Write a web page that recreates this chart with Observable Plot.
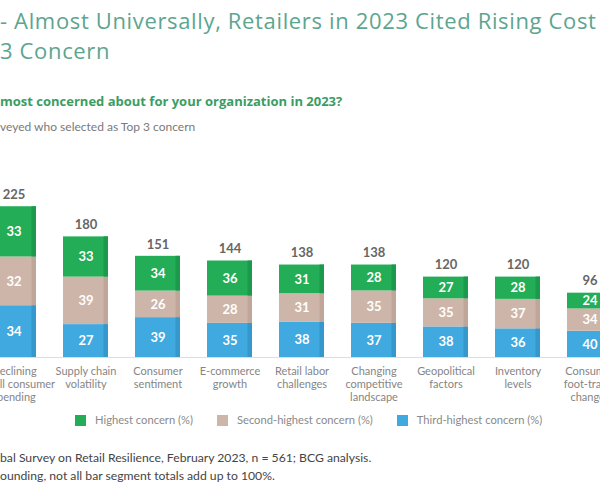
<!DOCTYPE html>
<html>
<head>
<meta charset="utf-8">
<script src="https://cdn.jsdelivr.net/npm/d3@7"></script>
<script src="https://cdn.jsdelivr.net/npm/@observablehq/plot@0.6"></script>
<style>
  html, body { margin: 0; padding: 0; background: #fff; }
  body { width: 600px; height: 500px; overflow: hidden; position: relative; font-family: Lato, "Open Sans", sans-serif; }
  .abs { position: absolute; white-space: nowrap; }
  #title { left: 0; top: 4.5px; font-family: "Open Sans", sans-serif; font-size: 22px; letter-spacing: 0.65px; line-height: 30px; color: #5ca58f; font-weight: 400; }
  #sub { left: 0; top: 93px; font-family: "Open Sans", sans-serif; font-size: 13px; line-height: 16px; color: #3a9d63; font-weight: 700; }
  #sub2 { left: 0; top: 119px; font-size: 12px; line-height: 15px; color: #7a7a7a; }
  #chart { left: -40px; top: 150px; width: 681px; height: 260px; }
  #chart svg { max-width: none !important; }
  #legend { left: 75px; top: 413px; display: flex; gap: 24px; font-size: 11.2px; color: #8a8a8a; line-height: 14px; }
  .item { display: flex; align-items: center; gap: 9px; }
  .sw { width: 11px; height: 11px; display: inline-block; }
  #note1 { left: 0; top: 450px; font-size: 12.2px; line-height: 16px; color: #444; }
  #note2 { left: 0; top: 468px; font-size: 12.2px; line-height: 16px; color: #444; }
</style>
</head>
<body>
<div id="title" class="abs">- Almost Universally, Retailers in 2023 Cited Rising Cost<br>3 Concern</div>
<div id="sub" class="abs">most concerned about for your organization in 2023?</div>
<div id="sub2" class="abs">veyed who selected as Top 3 concern</div>
<div id="chart" class="abs"></div>
<div id="legend" class="abs"></div>
<div id="note1" class="abs">bal Survey on Retail Resilience, February 2023, n = 561; BCG analysis.</div>
<div id="note2" class="abs">ounding, not all bar segment totals add up to 100%.</div>
<script>
const categories = [
  "Declining\noverall consumer\nspending",
  "Supply chain\nvolatility",
  "Consumer\nsentiment",
  "E-commerce\ngrowth",
  "Retail labor\nchallenges",
  "Changing\ncompetitive\nlandscape",
  "Geopolitical\nfactors",
  "Inventory\nlevels",
  "Consumer\nfoot-traffic\nchanges"
];
const totals  = [225, 180, 151, 144, 138, 138, 120, 120, 96];
const highest = [33, 33, 34, 36, 31, 28, 27, 28, 24];
const second  = [32, 39, 26, 28, 31, 35, 35, 37, 34];
const third   = [34, 27, 39, 35, 38, 37, 38, 36, 40];
const series  = ["Third-highest concern (%)", "Second-highest concern (%)", "Highest concern (%)"];
const colors  = ["#3fa9e0", "#cdb6a9", "#22ad56"];
const shades  = ["#3598cc", "#bfa698", "#1c9a4b"];
const legendOrder = ["Highest concern (%)", "Second-highest concern (%)", "Third-highest concern (%)"];

const rows = [];
categories.forEach((c, i) => {
  const pcts = [third[i], second[i], highest[i]];
  const sum = pcts[0] + pcts[1] + pcts[2];
  pcts.forEach((p, j) => rows.push({cat: c, series: series[j], pct: p, h: totals[i] * p / sum}));
});
const totalRows = categories.map((c, i) => ({cat: c, total: totals[i]}));

const chart = Plot.plot({
  width: 681,
  height: 260,
  marginLeft: 2,
  marginRight: 0,
  marginTop: 6,
  marginBottom: 53,
  style: {fontFamily: "Lato, 'Open Sans', sans-serif", background: "transparent", maxWidth: "none"},
  x: {domain: categories, padding: 0.37, axis: null},
  y: {domain: [0, 300], axis: null},
  color: {domain: series, range: colors},
  marks: [
    Plot.barY(rows, Plot.stackY({x: "cat", y: "h", fill: "series"})),
    Plot.barY(rows, Plot.stackY({x: "cat", y: "h", fill: d => shades[series.indexOf(d.series)], insetLeft: 40.5})),
    Plot.text(rows, Plot.stackY({x: "cat", y: "h", text: "pct", fill: "white", fontWeight: "bold", fontSize: 13})),
    Plot.ruleY([0], {stroke: "#dddddd", strokeWidth: 1}),
    Plot.text(totalRows, {x: "cat", y: "total", text: "total", dy: -12, fill: "#666", fontWeight: "bold", fontSize: 13}),
    Plot.text(categories, {x: d => d, y: 0, text: d => d, lineAnchor: "top", dy: 8, fontSize: 11, lineHeight: 1.2, fill: "#858585"})
  ]
});
document.getElementById("chart").appendChild(chart);

const legend = document.getElementById("legend");
legendOrder.forEach(s => {
  const item = document.createElement("div");
  item.className = "item";
  const sw = document.createElement("span");
  sw.className = "sw";
  sw.style.background = colors[series.indexOf(s)];
  const t = document.createElement("span");
  t.textContent = s;
  item.appendChild(sw);
  item.appendChild(t);
  legend.appendChild(item);
});
</script>
</body>
</html>
